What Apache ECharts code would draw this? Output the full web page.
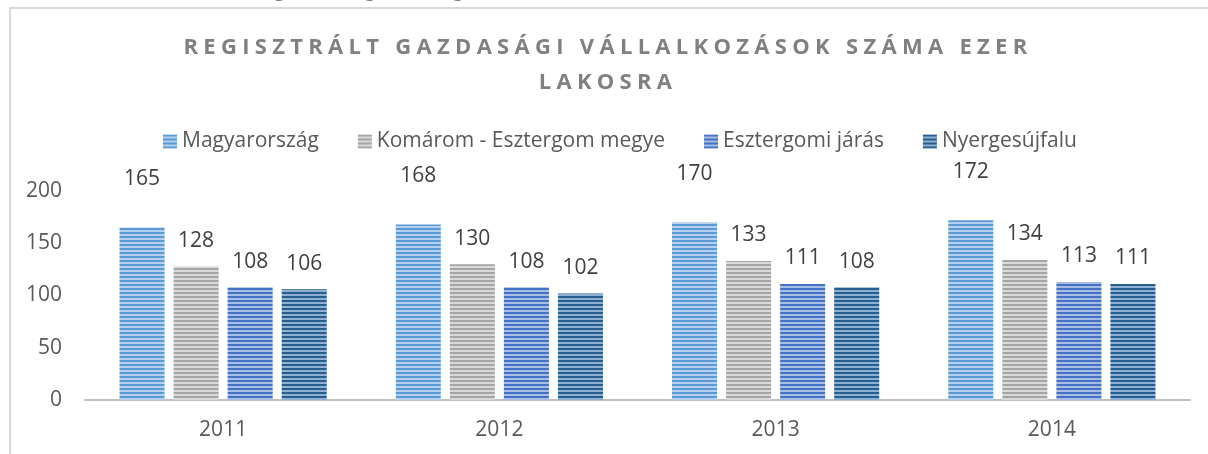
<!DOCTYPE html>
<html>
<head>
<meta charset="utf-8">
<script src="https://cdn.jsdelivr.net/npm/echarts@6/dist/echarts.min.js"></script>
<style>html,body{margin:0;padding:0;background:#fff}#c{width:1208px;height:454px}</style>
</head>
<body>
<div id="c"></div>
<script>
const categories = ['2011', '2012', '2013', '2014'];
const seriesNames = ['Magyarország', 'Komárom - Esztergom megye', 'Esztergomi járás', 'Nyergesújfalu'];
const magyarorszag = [165, 168, 170, 172];
const komarom = [128, 130, 133, 134];
const esztergomiJaras = [108, 108, 111, 113];
const nyergesujfalu = [106, 102, 108, 111];
const yTicks = [0, 50, 100, 150, 200];
const titleLines = ['REGISZTRÁLT GAZDASÁGI VÁLLALKOZÁSOK SZÁMA EZER', 'LAKOSRA'];
const topCaption = 'Regisztrált gazdasági vállalkozások száma ezer lakosra (db), 2011-2014';

// letter spacing only for the chart title lines
const origFill = CanvasRenderingContext2D.prototype.fillText;
const origMeasure = CanvasRenderingContext2D.prototype.measureText;
CanvasRenderingContext2D.prototype.fillText = function (t) {
  this.letterSpacing = titleLines.indexOf(t) >= 0 ? '5.3px' : '0px';
  const r = origFill.apply(this, arguments);
  this.letterSpacing = '0px';
  return r;
};
CanvasRenderingContext2D.prototype.measureText = function () {
  this.letterSpacing = '0px';
  return origMeasure.apply(this, arguments);
};

function stripe(dark, light) {
  const cv = document.createElement('canvas');
  cv.width = 4; cv.height = 4;
  const ctx = cv.getContext('2d');
  ctx.fillStyle = dark; ctx.fillRect(0, 0, 4, 2);
  ctx.fillStyle = light; ctx.fillRect(0, 2, 4, 2);
  return { image: cv, repeat: 'repeat' };
}
const fills = [
  stripe('#5B9BD5', '#B4D0EE'),
  stripe('#A5A5A5', '#D9D9D9'),
  stripe('#4472C4', '#A7BDE6'),
  stripe('#255E91', '#8FB0D0')
];
const dataSets = [magyarorszag, komarom, esztergomiJaras, nyergesujfalu];
const labelDist = [38, 15, 15, 15];
const FS = 21;

const chart = echarts.init(document.getElementById('c'), null, { renderer: 'canvas' });
chart.setOption({
  animation: false,
  backgroundColor: '#ffffff',
  graphic: [
    { type: 'rect', shape: { x: 10, y: 8, width: 1400, height: 600 }, style: { fill: 'none', stroke: '#D9D9D9', lineWidth: 2 }, silent: true },
    { type: 'text', x: 626, y: -12, style: { text: topCaption, align: 'center', verticalAlign: 'middle', fill: '#7F7F7F', fontStyle: 'italic', fontSize: 24, fontFamily: 'Open Sans' } },
    { type: 'text', x: 608, y: 48, style: { text: titleLines[0], align: 'center', verticalAlign: 'middle', fill: '#808080', fontWeight: 'bold', fontSize: 22, fontFamily: 'Open Sans' } },
    { type: 'text', x: 608, y: 83, style: { text: titleLines[1], align: 'center', verticalAlign: 'middle', fill: '#808080', fontWeight: 'bold', fontSize: 22, fontFamily: 'Open Sans' } }
  ],
  legend: {
    data: seriesNames,
    left: 158, top: 126,
    itemWidth: 14, itemHeight: 14, itemGap: 39,
    icon: 'rect',
    textStyle: { fontFamily: 'Open Sans', fontSize: FS, color: '#595959' }
  },
  grid: { left: 85, right: 18, top: 191, bottom: 54, containLabel: false },
  xAxis: {
    type: 'category', data: categories,
    axisLine: { lineStyle: { color: '#BFBFBF', width: 2 } },
    axisTick: { show: false },
    axisLabel: { fontFamily: 'Open Sans', fontSize: FS, color: '#595959', margin: 20 }
  },
  yAxis: {
    type: 'value', min: yTicks[0], max: yTicks[yTicks.length - 1], interval: 50,
    axisLine: { show: false }, axisTick: { show: false }, splitLine: { show: false },
    axisLabel: { fontFamily: 'Open Sans', fontSize: FS, color: '#595959', margin: 23 }
  },
  series: seriesNames.map((n, i) => ({
    name: n, type: 'bar', data: dataSets[i],
    barGap: '20%', barCategoryGap: '25%',
    itemStyle: { color: fills[i] },
    label: { show: true, position: 'top', distance: labelDist[i], fontFamily: 'Open Sans', fontSize: FS, color: '#404040' }
  }))
});
</script>
</body>
</html>
